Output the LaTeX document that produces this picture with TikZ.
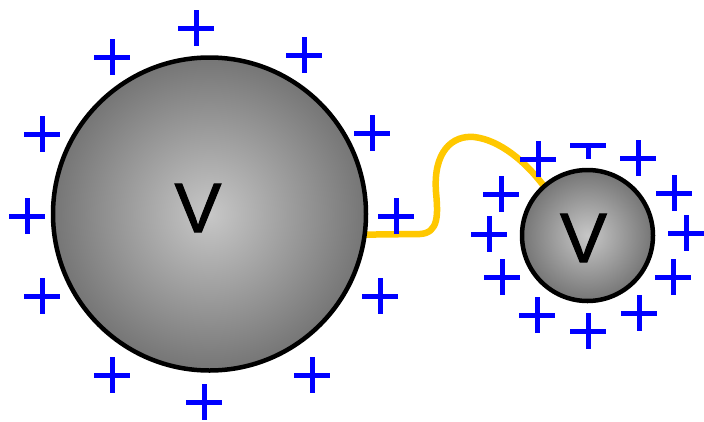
\documentclass[tikz,border=0pt]{standalone}
\usepackage{fontspec}
\setmainfont{Liberation Sans}
\usepackage{tikz}
\usetikzlibrary{calc}
\tikzset{>=latex}
\definecolor{wiregold}{RGB}{255,200,0}
\definecolor{chargeblue}{RGB}{0,0,255}
\tikzstyle{ball} = [circle, inner sep=0pt, draw=black, line width=4.5pt, inner color=black!22, outer color=black!54]
\tikzstyle{volt} = [inner sep=0pt, font=\fontsize{70}{70}\selectfont\addfontfeature{FakeBold=1.5}]
\tikzstyle{wire} = [draw=wiregold, line width=6.5pt, line join=round]
\tikzstyle{charge} = [draw=chargeblue, line width=5pt]

\begin{document}
\begin{tikzpicture}[x=1pt, y=-1pt]
    \useasboundingbox (0,0) rectangle (704,421);
    % conductors
    \coordinate (bigc) at (209.5,214);
    \coordinate (smallc) at (587.5,235.5);
    % wire between the spheres
    \path (bigc) ++(7.6:156) coordinate (w0);
    \path (smallc) ++(228.5:65) coordinate (w1);
    \draw[wire] (w0) -- (420,234) .. controls (439,233) and (438,214) .. (436,192)
        .. controls (433,152) and (452,135) .. (474,137)
        .. controls (500,140) and (526,162) .. (w1);
    \node[ball, minimum size=313pt] (big) at (bigc) {};
    \node[ball, minimum size=131pt] (small) at (smallc) {};
    \node[volt] (bigV) at (198,208) {V};
    \node[volt] (smallV) at (583.5,238) {V};
    % charges round the big sphere
    \foreach \x/\y in {196/28, 112/57, 304/55, 42/134, 372/133, 27/216,
        396/216, 42/296, 380/296, 112/375, 312/375, 204/402}
        \draw[charge] (\x-18,\y) -- (\x+18,\y) (\x,\y-18) -- (\x,\y+18);
    % charges round the small sphere
    \foreach \x/\y in {538/159, 638/158, 501/194, 674/193, 489/234, 686/233,
        502/277, 673/277, 537/315, 639/313, 588/331}
        \draw[charge] (\x-18,\y) -- (\x+18,\y) (\x,\y-18) -- (\x,\y+18);
    \draw[charge] (570,145) -- (606,145) (588,145) -- (588,159);
\end{tikzpicture}
\end{document}
